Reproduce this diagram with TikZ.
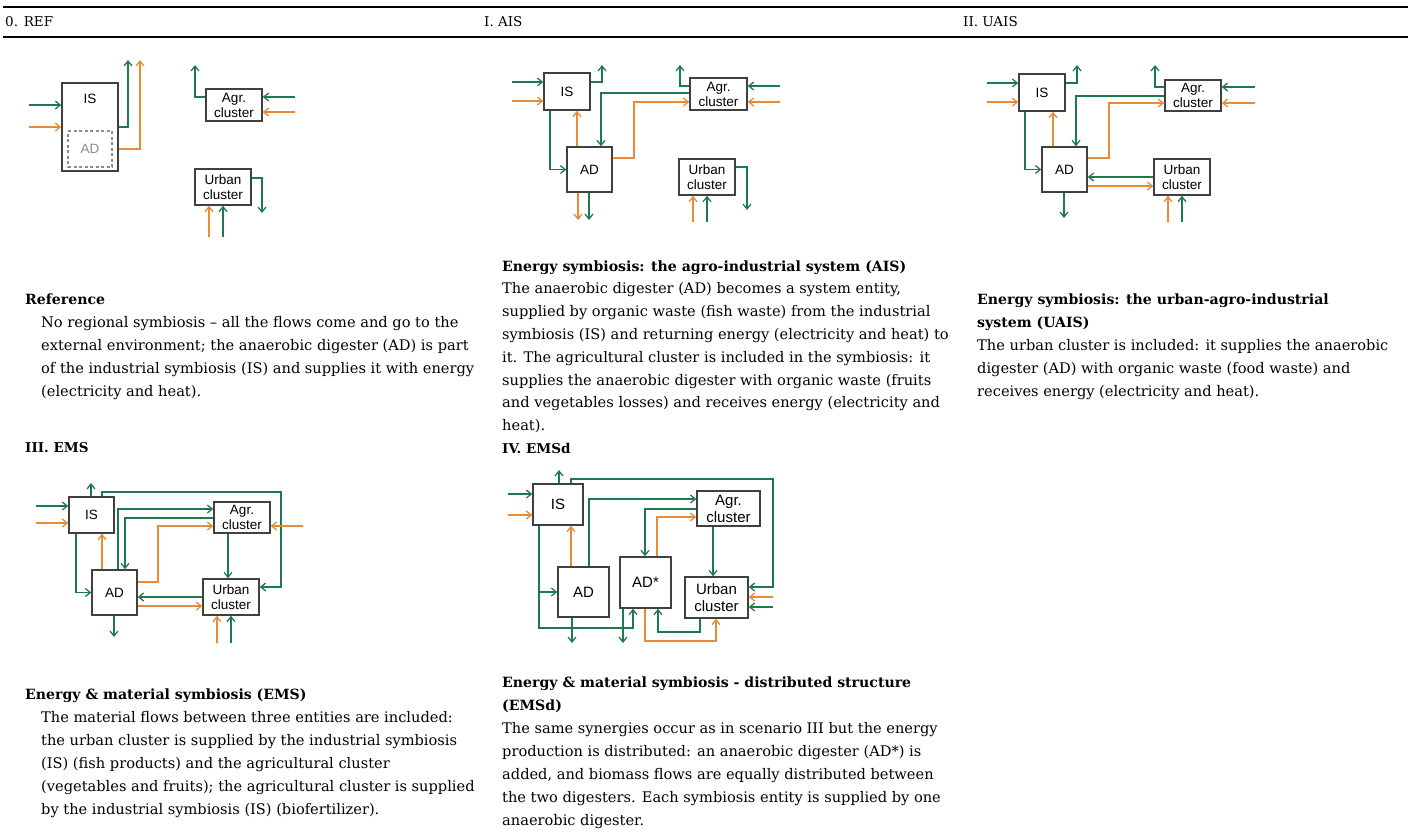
\documentclass[tikz,border=0pt]{standalone}
\usepackage{fontspec}
\setmainfont{DejaVu Serif}
\newfontfamily\diagsans{Liberation Sans}
\usetikzlibrary{arrows.meta}
\definecolor{flowgreen}{HTML}{1D7A4C}
\definecolor{floworange}{HTML}{EA8A37}
\definecolor{boxline}{HTML}{404040}
\definecolor{adgray}{HTML}{8C8C8C}

\begin{document}
\begin{tikzpicture}[x=1pt,y=-1pt,
  box/.style={draw=boxline,line width=1.4pt,fill=white,inner sep=0pt,align=center,font=\diagsans\fontsize{13.5}{15}\selectfont},
  bigbox/.style={box,font=\diagsans\fontsize{15}{17}\selectfont},
  dashbox/.style={draw=adgray,dash pattern=on 3pt off 2.5pt,line width=1.2pt,inner sep=0pt,text=adgray,font=\diagsans\fontsize{13.5}{15}\selectfont},
  gflow/.style={draw=flowgreen,line width=1.25pt,-{Straight Barb[length=5pt,width=8pt]}},
  oflow/.style={gflow,draw=floworange},
  hdr/.style={anchor=west,inner sep=0pt,font=\fontsize{13.5}{15}\selectfont},
  sec/.style={anchor=west,inner sep=0pt,font=\bfseries\fontsize{13.5}{16}\selectfont},
  txt/.style={anchor=north west,inner sep=0pt,align=left,font=\fontsize{14.6}{22.8}\selectfont},
  ttl/.style={txt,font=\bfseries\fontsize{14.1}{22.8}\selectfont}]
\useasboundingbox (0,0) rectangle (1411,831);

% header
\draw[line width=2.6pt] (3,7) -- (1408,7);
\draw[line width=2.6pt] (3,37) -- (1408,37);
\node[hdr] (h-ref) at (5,22) {0. REF};
\node[hdr] (h-ais) at (484,22) {I. AIS};
\node[hdr] (h-uais) at (963,22) {II. UAIS};
\node[sec] (h-ems) at (25,448) {III. EMS};
\node[sec] (h-emsd) at (502,448) {IV. EMSd};

% 0. REF
\node[box,minimum width=56,minimum height=88] (r-is) at (90,127) {};
\node[inner sep=0pt,font=\diagsans\fontsize{13.5}{15}\selectfont] (r-islab) at (90,99) {IS};
\node[dashbox,minimum width=44,minimum height=36] (r-ad) at (90,149) {AD};
\node[box,minimum width=56,minimum height=32] (r-agr) at (234,105) {Agr.\\cluster};
\node[box,minimum width=56,minimum height=36] (r-urb) at (223,187) {Urban\\cluster};
\coordinate (r-gin) at (29,105);
\coordinate (r-oin) at (29,127);
\coordinate (r-gout) at (128,60);
\coordinate (r-oout) at (140,60);
\coordinate (r-agr-gout) at (195,65);
\coordinate (r-agr-gin) at (295,97);
\coordinate (r-agr-oin) at (295,112);
\coordinate (r-urb-gout) at (262,213);
\coordinate (r-urb-oin) at (209,237);
\coordinate (r-urb-gin) at (223,237);
\draw[gflow] (r-gin) -- (r-gin -| r-is.west);
\draw[oflow] (r-oin) -- (r-oin -| r-is.west);
\draw[gflow] (r-is.east |- 0,127) -| (r-gout);
\draw[oflow] (r-is.east |- 0,149) -| (r-oout);
\draw[gflow] (r-agr.west |- 0,97) -| (r-agr-gout);
\draw[gflow] (r-agr-gin) -- (r-agr-gin -| r-agr.east);
\draw[oflow] (r-agr-oin) -- (r-agr-oin -| r-agr.east);
\draw[gflow] (r-urb.east |- 0,178) -| (r-urb-gout);
\draw[oflow] (r-urb-oin) -- (r-urb-oin |- r-urb.south);
\draw[gflow] (r-urb-gin) -- (r-urb-gin |- r-urb.south);

% I. AIS
\node[box,minimum width=46,minimum height=37] (a-is) at (567,91.5) {IS};
\node[box,minimum width=45,minimum height=45] (a-ad) at (589.5,169.5) {AD};
\node[box,minimum width=57,minimum height=32] (a-agr) at (718.5,94) {Agr.\\cluster};
\node[box,minimum width=56,minimum height=36] (a-urb) at (707,177) {Urban\\cluster};
\coordinate (a-gin) at (512,82);
\coordinate (a-oin) at (512,101);
\coordinate (a-is-out) at (602,65);
\coordinate (a-agr-out) at (680,65);
\coordinate (a-agr-gin) at (780,86);
\coordinate (a-agr-oin) at (780,102);
\coordinate (a-ad-oout) at (578,220);
\coordinate (a-ad-gout) at (589,220);
\coordinate (a-urb-out) at (747,210);
\coordinate (a-urb-oin) at (693,222);
\coordinate (a-urb-gin) at (707,222);
\draw[gflow] (a-gin) -- (a-gin -| a-is.west);
\draw[oflow] (a-oin) -- (a-oin -| a-is.west);
\draw[gflow] (a-is.east |- a-gin) -| (a-is-out);
\draw[gflow] (a-is.south -| 550,0) |- (a-ad.west);
\draw[oflow] (a-ad.north -| 577,0) -- (a-is.south -| 577,0);
\draw[gflow] (a-agr.west |- 0,86) -| (a-agr-out);
\draw[gflow] (a-agr.west |- 0,93) -| (a-ad.north -| 601,0);
\draw[oflow] (a-ad.east |- 0,158) -| (634,102) -- (a-agr.west |- 0,102);
\draw[gflow] (a-agr-gin) -- (a-agr-gin -| a-agr.east);
\draw[oflow] (a-agr-oin) -- (a-agr-oin -| a-agr.east);
\draw[oflow] (a-ad.south -| a-ad-oout) -- (a-ad-oout);
\draw[gflow] (a-ad.south -| a-ad-gout) -- (a-ad-gout);
\draw[gflow] (a-urb.east |- 0,167) -| (a-urb-out);
\draw[oflow] (a-urb-oin) -- (a-urb-oin |- a-urb.south);
\draw[gflow] (a-urb-gin) -- (a-urb-gin |- a-urb.south);

% II. UAIS
\node[box,minimum width=46,minimum height=37] (u-is) at (1042,92.5) {IS};
\node[box,minimum width=45,minimum height=45] (u-ad) at (1064.5,169.5) {AD};
\node[box,minimum width=56,minimum height=31] (u-agr) at (1193,95.5) {Agr.\\cluster};
\node[box,minimum width=56,minimum height=36] (u-urb) at (1182,177) {Urban\\cluster};
\coordinate (u-gin) at (987,83);
\coordinate (u-oin) at (987,102);
\coordinate (u-is-out) at (1077,65);
\coordinate (u-agr-out) at (1155,65);
\coordinate (u-agr-gin) at (1255,87);
\coordinate (u-agr-oin) at (1255,103);
\coordinate (u-ad-out) at (1064,218);
\coordinate (u-urb-oin) at (1168,222);
\coordinate (u-urb-gin) at (1182,222);
\draw[gflow] (u-gin) -- (u-gin -| u-is.west);
\draw[oflow] (u-oin) -- (u-oin -| u-is.west);
\draw[gflow] (u-is.east |- u-gin) -| (u-is-out);
\draw[gflow] (u-is.south -| 1025,0) |- (u-ad.west);
\draw[oflow] (u-ad.north -| 1053,0) -- (u-is.south -| 1053,0);
\draw[gflow] (u-agr.west |- 0,87) -| (u-agr-out);
\draw[gflow] (u-agr.west |- 0,96) -| (u-ad.north -| 1076,0);
\draw[oflow] (u-ad.east |- 0,158) -| (1109,103) -- (u-agr.west |- 0,103);
\draw[gflow] (u-agr-gin) -- (u-agr-gin -| u-agr.east);
\draw[oflow] (u-agr-oin) -- (u-agr-oin -| u-agr.east);
\draw[gflow] (u-urb.west |- 0,177) -- (u-ad.east |- 0,177);
\draw[oflow] (u-ad.east |- 0,186) -- (u-urb.west |- 0,186);
\draw[gflow] (u-ad.south -| u-ad-out) -- (u-ad-out);
\draw[oflow] (u-urb-oin) -- (u-urb-oin |- u-urb.south);
\draw[gflow] (u-urb-gin) -- (u-urb-gin |- u-urb.south);

% III. EMS
\node[box,minimum width=45,minimum height=36] (e-is) at (91.5,515) {IS};
\node[box,minimum width=45,minimum height=45] (e-ad) at (114.5,592.5) {AD};
\node[box,minimum width=56,minimum height=31] (e-agr) at (242,517.5) {Agr.\\cluster};
\node[box,minimum width=56,minimum height=36] (e-urb) at (231,597) {Urban\\cluster};
\coordinate (e-gin) at (36,506);
\coordinate (e-oin) at (36,523);
\coordinate (e-is-out) at (91,483);
\coordinate (e-agr-oin) at (303,526);
\coordinate (e-ad-out) at (114,637);
\coordinate (e-urb-oin) at (217,643);
\coordinate (e-urb-gin) at (231,643);
\draw[gflow] (e-gin) -- (e-gin -| e-is.west);
\draw[oflow] (e-oin) -- (e-oin -| e-is.west);
\draw[gflow] (e-is.north -| e-is-out) -- (e-is-out);
\draw[gflow] (e-is.north -| 102,0) -- (102,492) -| (281,587) -- (e-urb.east |- 0,587);
\draw[gflow] (e-is.south -| 76,0) |- (e-ad.west);
\draw[oflow] (e-ad.north -| 102,0) -- (e-is.south -| 102,0);
\draw[gflow] (e-ad.north -| 118,0) |- (e-agr.west |- 0,509);
\draw[gflow] (e-agr.west |- 0,518) -| (e-ad.north -| 125,0);
\draw[oflow] (e-ad.east |- 0,582) -| (158,526) -- (e-agr.west |- 0,526);
\draw[oflow] (e-agr-oin) -- (e-agr-oin -| e-agr.east);
\draw[gflow] (e-agr.south -| 228,0) -- (e-urb.north -| 228,0);
\draw[gflow] (e-urb.west |- 0,597) -- (e-ad.east |- 0,597);
\draw[oflow] (e-ad.east |- 0,606) -- (e-urb.west |- 0,606);
\draw[gflow] (e-ad.south -| e-ad-out) -- (e-ad-out);
\draw[oflow] (e-urb-oin) -- (e-urb-oin |- e-urb.south);
\draw[gflow] (e-urb-gin) -- (e-urb-gin |- e-urb.south);

% IV. EMSd
\node[bigbox,minimum width=50,minimum height=41] (d-is) at (558,504.5) {IS};
\node[bigbox,minimum width=51,minimum height=50] (d-ad) at (583.5,592) {AD};
\node[bigbox,minimum width=51,minimum height=51] (d-ads) at (645.5,582.5) {AD*};
\node[bigbox,minimum width=63,minimum height=35] (d-agr) at (728.5,508.5) {Agr.\\cluster};
\node[bigbox,minimum width=63,minimum height=41] (d-urb) at (716.5,597.5) {Urban\\cluster};
\coordinate (d-gin) at (508,494);
\coordinate (d-oin) at (508,515);
\coordinate (d-is-out) at (559,470);
\coordinate (d-urb-oin) at (773,597);
\coordinate (d-urb-gin) at (773,607);
\coordinate (d-ad-out) at (572,643);
\coordinate (d-ads-out) at (623,643);
\draw[gflow] (d-gin) -- (d-gin -| d-is.west);
\draw[oflow] (d-oin) -- (d-oin -| d-is.west);
\draw[gflow] (d-is.north -| d-is-out) -- (d-is-out);
\draw[gflow] (d-is.north -| 571,0) -- (571,479) -| (773,587) -- (d-urb.east |- 0,587);
\draw[gflow] (d-is.south -| 539,0) |- (d-ad.west);
\draw[gflow] (d-is.south -| 539,0) -- (539,628) -| (d-ads.south -| 633,0);
\draw[oflow] (d-ad.north -| 571,0) -- (d-is.south -| 571,0);
\draw[gflow] (d-ad.north -| 589,0) |- (d-agr.west |- 0,499);
\draw[gflow] (d-agr.west |- 0,509) -| (d-ads.north -| 645,0);
\draw[oflow] (d-ads.north -| 657,0) |- (d-agr.west |- 0,517);
\draw[gflow] (d-agr.south -| 713,0) -- (d-urb.north -| 713,0);
\draw[oflow] (d-urb-oin) -- (d-urb-oin -| d-urb.east);
\draw[gflow] (d-urb-gin) -- (d-urb-gin -| d-urb.east);
\draw[gflow] (d-ad.south -| d-ad-out) -- (d-ad-out);
\draw[gflow] (d-ads.south -| d-ads-out) -- (d-ads-out);
\draw[oflow] (d-ads.south -| 645,0) -- (645,641) -| (d-urb.south -| 716,0);
\draw[gflow] (d-urb.south -| 700,0) -- (700,632) -| (d-ads.south -| 658,0);

% texts
\node[ttl] (t-ref) at (25,293.5) {Reference};
\node[txt] (b-ref) at (41,316.5) {No regional symbiosis -- all the flows come and go to the\\
external environment; the anaerobic digester (AD) is part\\
of the industrial symbiosis (IS) and supplies it with energy\\
(electricity and heat).};
\node[ttl] (t-ais) at (502,260.5) {Energy symbiosis: the agro-industrial system (AIS)};
\node[txt] (b-ais) at (502,282.5) {The anaerobic digester (AD) becomes a system entity,\\
supplied by organic waste (fish waste) from the industrial\\
symbiosis (IS) and returning energy (electricity and heat) to\\
it. The agricultural cluster is included in the symbiosis: it\\
supplies the anaerobic digester with organic waste (fruits\\
and vegetables losses) and receives energy (electricity and\\
heat).};
\node[ttl] (t-uais) at (977,293.5) {Energy symbiosis: the urban-agro-industrial\\
system (UAIS)};
\node[txt] (b-uais) at (977,339.5) {The urban cluster is included: it supplies the anaerobic\\
digester (AD) with organic waste (food waste) and\\
receives energy (electricity and heat).};
\node[ttl] (t-ems) at (25,688.5) {Energy \& material symbiosis (EMS)};
\node[txt] (b-ems) at (41,711.5) {The material flows between three entities are included:\\
the urban cluster is supplied by the industrial symbiosis\\
(IS) (fish products) and the agricultural cluster\\
(vegetables and fruits); the agricultural cluster is supplied\\
by the industrial symbiosis (IS) (biofertilizer).};
\node[ttl] (t-emsd) at (502,676.5) {Energy \& material symbiosis - distributed structure\\
(EMSd)};
\node[txt] (b-emsd) at (502,722.5) {The same synergies occur as in scenario III but the energy\\
production is distributed: an anaerobic digester (AD*) is\\
added, and biomass flows are equally distributed between\\
the two digesters. Each symbiosis entity is supplied by one\\
anaerobic digester.};
\end{tikzpicture}
\end{document}
